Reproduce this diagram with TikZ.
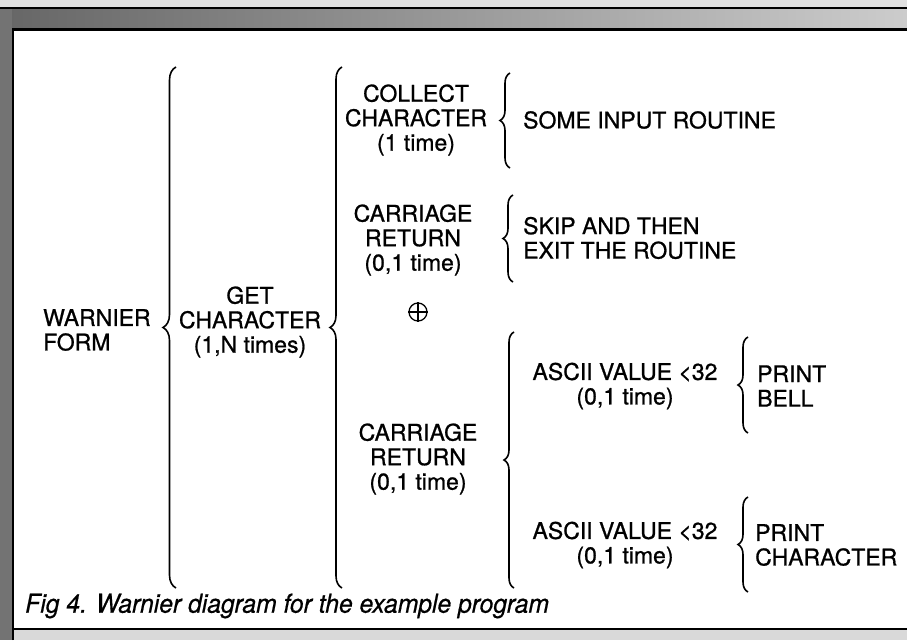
\documentclass[tikz,border=0pt]{standalone}
\usepackage{fontspec}
\newfontfamily\hv[FakeBold=0.9]{TeX Gyre Heros}
\newfontfamily\hvi[FakeBold=0.6,FakeStretch=0.95]{TeX Gyre Heros Italic}
\usetikzlibrary{decorations.pathreplacing}
\begin{document}
\begin{tikzpicture}[x=1pt,y=-1pt,
  txt/.style={inner sep=0pt, align=center, font=\hv\fontsize{23}{24.5}\selectfont},
  ltxt/.style={txt, align=left, anchor=west},
  brc/.style={decorate, decoration={brace, amplitude=#1}, line width=1.6pt},
  brc/.default=11pt]
\useasboundingbox (0,0) rectangle (907,640);
% frame
\fill[black!12] (0,0) rectangle (907,8);
\shade[left color=black!60, right color=black!20] (0,8) rectangle (907,29);
\fill[black!55] (0,8) rectangle (12,640);
\fill[black!15] (12,629) rectangle (907,640);
\draw[line width=2pt] (0,8) -- (907,8);
\draw[line width=2.5pt] (13,640) -- (13,29.5) -- (907,29.5);
\draw[line width=2pt] (13,628.5) -- (907,628.5);
% level 1
\node[ltxt] (wf) at (43,330) {WARNIER\\FORM};
\coordinate (b1t) at (176,67); \coordinate (b1b) at (176,588);
\draw[brc=13pt] (b1b) -- (b1t);
% level 2
\node[txt] (gc) at (250,322) {GET\\CHARACTER\\(1,N times)};
\coordinate (b2t) at (342,67); \coordinate (b2b) at (342,588);
\draw[brc=12pt] (b2b) -- (b2t);
% level 3
\node[txt] (cc) at (416,120) {COLLECT\\CHARACTER\\(1 time)};
\coordinate (b3t) at (510,73); \coordinate (b3b) at (510,168);
\draw[brc=10pt] (b3b) -- (b3t);
\node[ltxt] (sir) at (523,120) {SOME INPUT ROUTINE};
\node[txt] (cr1) at (413,240) {CARRIAGE\\RETURN\\(0,1 time)};
\coordinate (b4t) at (513,195); \coordinate (b4b) at (513,282);
\draw[brc=10pt] (b4b) -- (b4t);
\node[ltxt] (sk) at (523,238) {SKIP AND THEN\\EXIT THE ROUTINE};
\node[circle, draw, line width=1.3pt, minimum size=18pt, inner sep=0pt] (op) at (418,312) {};
\draw[line width=1.3pt] (op.north) -- (op.south) (op.west) -- (op.east);
\node[txt] (cr2) at (418,459) {CARRIAGE\\RETURN\\(0,1 time)};
\coordinate (b5t) at (514,332); \coordinate (b5b) at (514,588);
\draw[brc=10pt] (b5b) -- (b5t);
% level 4
\node[txt] (av1) at (625,386) {ASCII VALUE <32\\(0,1 time)};
\coordinate (b6t) at (748,337); \coordinate (b6b) at (748,433);
\draw[brc=10pt] (b6b) -- (b6t);
\node[ltxt] (pb) at (757,386) {PRINT\\BELL};
\node[txt] (av2) at (625,545) {ASCII VALUE <32\\(0,1 time)};
\coordinate (b7t) at (748,497); \coordinate (b7b) at (748,592);
\draw[brc=10pt] (b7b) -- (b7t);
\node[ltxt] (pc) at (755,545) {PRINT\\CHARACTER};
% caption
\node[anchor=west, inner sep=0pt, font=\hvi\fontsize{26}{26}\selectfont] (cap) at (25,606) {Fig 4. Warnier diagram for the example program};
\end{tikzpicture}
\end{document}
